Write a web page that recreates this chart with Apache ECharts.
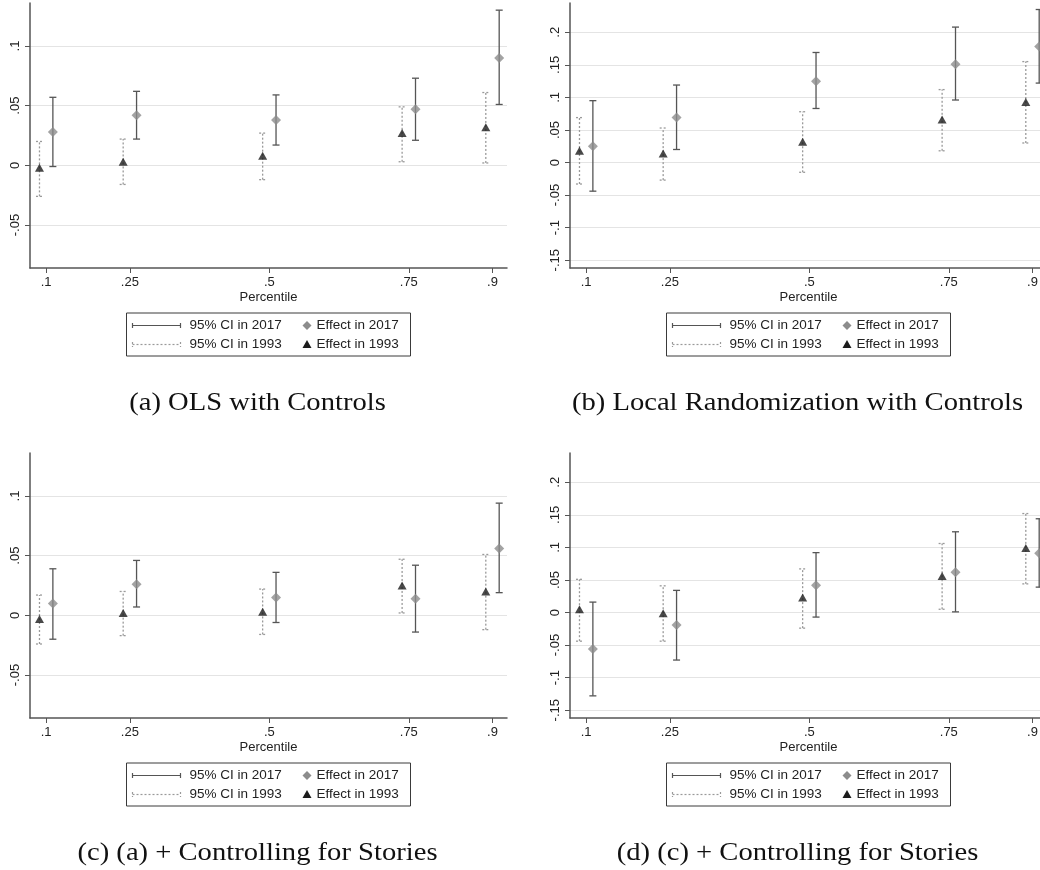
<!DOCTYPE html>
<html>
<head>
<meta charset="utf-8">
<title>Effects by percentile, 2017 vs 1993</title>
<script src="https://cdn.jsdelivr.net/npm/echarts@6/dist/echarts.min.js"></script>
<style>
  html, body { margin: 0; padding: 0; background: #fff; }
  #chart { width: 1040px; height: 870px; }
</style>
</head>
<body>
<div id="chart"></div>
<script>
// x axis: percentiles
var percentiles = [0.1, 0.25, 0.5, 0.75, 0.9];
var xTickLabels = ['.1', '.25', '.5', '.75', '.9'];

// y ticks, left column (a, c) and right column (b, d)
var yTicksNarrow = [-0.05, 0, 0.05, 0.1];
var yTickLabelsNarrow = ['-.05', '0', '.05', '.1'];
var yTicksWide = [-0.15, -0.1, -0.05, 0, 0.05, 0.1, 0.15, 0.2];
var yTickLabelsWide = ['-.15', '-.1', '-.05', '0', '.05', '.1', '.15', '.2'];

// (a) OLS with Controls
var olsEffect2017 = [0.028, 0.042, 0.038, 0.047, 0.090];
var olsLow2017    = [-0.001, 0.022, 0.017, 0.021, 0.051];
var olsHigh2017   = [0.057, 0.062, 0.059, 0.073, 0.130];
var olsEffect1993 = [-0.002, 0.003, 0.008, 0.027, 0.032];
var olsLow1993    = [-0.026, -0.016, -0.012, 0.003, 0.002];
var olsHigh1993   = [0.020, 0.022, 0.027, 0.049, 0.061];

// (b) Local Randomization with Controls
var lrEffect2017 = [0.025, 0.069, 0.125, 0.151, 0.178];
var lrLow2017    = [-0.044, 0.020, 0.083, 0.096, 0.122];
var lrHigh2017   = [0.095, 0.119, 0.169, 0.208, 0.235];
var lrEffect1993 = [0.018, 0.014, 0.032, 0.066, 0.093];
var lrLow1993    = [-0.033, -0.027, -0.015, 0.018, 0.030];
var lrHigh1993   = [0.069, 0.053, 0.078, 0.112, 0.155];

// (c) (a) + Controlling for Stories
var olsStEffect2017 = [0.010, 0.026, 0.015, 0.014, 0.056];
var olsStLow2017    = [-0.020, 0.007, -0.006, -0.014, 0.019];
var olsStHigh2017   = [0.039, 0.046, 0.036, 0.042, 0.094];
var olsStEffect1993 = [-0.003, 0.002, 0.003, 0.025, 0.020];
var olsStLow1993    = [-0.024, -0.017, -0.016, 0.002, -0.012];
var olsStHigh1993   = [0.017, 0.020, 0.022, 0.047, 0.051];

// (d) (c) + Controlling for Stories
var lrStEffect2017 = [-0.056, -0.019, 0.042, 0.062, 0.091];
var lrStLow2017    = [-0.128, -0.073, -0.007, 0.001, 0.039];
var lrStHigh2017   = [0.016, 0.034, 0.092, 0.124, 0.144];
var lrStEffect1993 = [0.005, -0.001, 0.023, 0.056, 0.099];
var lrStLow1993    = [-0.044, -0.044, -0.024, 0.005, 0.044];
var lrStHigh1993   = [0.051, 0.041, 0.067, 0.106, 0.152];

var SANS = '"Liberation Sans", Arial, sans-serif';
var SERIF = '"Liberation Serif", "Times New Roman", serif';
var DODGE = 0.012; // 1993 drawn left of the tick, 2017 right of it
var COL_2017 = '#555555';
var COL_1993 = '#9a9a9a';

var panels = [
  { caption: '(a) OLS with Controls', left: 30, top: 3, wide: false,
    e17: olsEffect2017, lo17: olsLow2017, hi17: olsHigh2017, e93: olsEffect1993, lo93: olsLow1993, hi93: olsHigh1993 },
  { caption: '(b) Local Randomization with Controls', left: 570, top: 3, wide: true,
    e17: lrEffect2017, lo17: lrLow2017, hi17: lrHigh2017, e93: lrEffect1993, lo93: lrLow1993, hi93: lrHigh1993 },
  { caption: '(c) (a) + Controlling for Stories', left: 30, top: 453, wide: false,
    e17: olsStEffect2017, lo17: olsStLow2017, hi17: olsStHigh2017, e93: olsStEffect1993, lo93: olsStLow1993, hi93: olsStHigh1993 },
  { caption: '(d) (c) + Controlling for Stories', left: 570, top: 453, wide: true,
    e17: lrStEffect2017, lo17: lrStLow2017, hi17: lrStHigh2017, e93: lrStEffect1993, lo93: lrStLow1993, hi93: lrStHigh1993 }
];
var PLOT_W = 477, PLOT_H = 265;

function labelFrom(ticks, labels) {
  return function (v) {
    for (var i = 0; i < ticks.length; i++) {
      if (Math.abs(ticks[i] - v) < 1e-9) return labels[i];
    }
    return '';
  };
}

// vertical CI bar with caps
function ciBar(dodge, color, dash) {
  return function (params, api) {
    var x = api.value(0) + dodge;
    var lo = api.coord([x, api.value(1)]);
    var hi = api.coord([x, api.value(2)]);
    var cap = 3.5;
    var st = { stroke: color, lineWidth: 1.3, lineDash: dash, fill: null };
    return {
      type: 'group',
      children: [
        { type: 'line', shape: { x1: lo[0], y1: lo[1], x2: hi[0], y2: hi[1] }, style: st },
        { type: 'line', shape: { x1: lo[0] - cap, y1: lo[1], x2: lo[0] + cap, y2: lo[1] }, style: st },
        { type: 'line', shape: { x1: hi[0] - cap, y1: hi[1], x2: hi[0] + cap, y2: hi[1] }, style: st }
      ]
    };
  };
}

function legendBox(cx, top) {
  var w = 284, h = 43, r1 = 12.5, r2 = 31.5;
  var font = { fontFamily: SANS, fontSize: 13.5, fill: '#222', verticalAlign: 'middle', align: 'left' };
  function txt(s, x, y) {
    return { type: 'text', style: Object.assign({ text: s, x: x, y: y }, font) };
  }
  function sample(y, color, dash) {
    var st = { stroke: color, lineWidth: 1.2, lineDash: dash };
    return [
      { type: 'line', shape: { x1: 6, y1: y, x2: 54, y2: y }, style: st },
      { type: 'line', shape: { x1: 6, y1: y - 2.5, x2: 6, y2: y + 2.5 }, style: st },
      { type: 'line', shape: { x1: 54, y1: y - 2.5, x2: 54, y2: y + 2.5 }, style: st }
    ];
  }
  var d = 180.5;
  var children = [
    { type: 'rect', shape: { x: 0, y: 0, width: w, height: h }, style: { fill: '#fff', stroke: '#3a3a3a', lineWidth: 1 } }
  ]
    .concat(sample(r1, COL_2017, null))
    .concat(sample(r2, COL_1993, [2, 2]))
    .concat([
      txt('95% CI in 2017', 63, r1),
      txt('95% CI in 1993', 63, r2),
      { type: 'polygon', shape: { points: [[d, r1 - 4.5], [d + 4.5, r1], [d, r1 + 4.5], [d - 4.5, r1]] }, style: { fill: '#8c8c8c' } },
      { type: 'polygon', shape: { points: [[d, r2 - 4.5], [d + 4.5, r2 + 3.5], [d - 4.5, r2 + 3.5]] }, style: { fill: '#1c1c1c' } },
      txt('Effect in 2017', 190, r1),
      txt('Effect in 1993', 190, r2)
    ]);
  return { type: 'group', x: cx - w / 2, y: top, children: children };
}

var grids = [], xAxes = [], yAxes = [], series = [], graphics = [];

panels.forEach(function (p, i) {
  var yTicks = p.wide ? yTicksWide : yTicksNarrow;
  var yLabels = p.wide ? yTickLabelsWide : yTickLabelsNarrow;
  grids.push({ left: p.left, top: p.top, width: PLOT_W, height: PLOT_H, containLabel: false, outerBoundsMode: 'none' });
  xAxes.push({
    type: 'value', gridIndex: i, min: 0.071, max: 0.926,
    name: 'Percentile', nameLocation: 'middle', nameGap: 23,
    nameTextStyle: { fontFamily: SANS, fontSize: 13, color: '#222' },
    axisLine: { onZero: false, lineStyle: { color: '#555', width: 1.5 } },
    axisTick: { length: 5, customValues: percentiles, lineStyle: { color: '#555', width: 1 } },
    axisLabel: { customValues: percentiles, margin: 8, fontFamily: SANS, fontSize: 13, color: '#222',
                 formatter: labelFrom(percentiles, xTickLabels) },
    splitLine: { show: false }
  });
  yAxes.push({
    type: 'value', gridIndex: i,
    min: p.wide ? -0.162 : -0.086, max: p.wide ? 0.245 : 0.136,
    axisLine: { show: true, onZero: false, lineStyle: { color: '#555', width: 1.5 } },
    axisTick: { show: true, length: 5, customValues: yTicks, lineStyle: { color: '#555', width: 1 } },
    axisLabel: { customValues: yTicks, rotate: 90, margin: 8, fontFamily: SANS, fontSize: 13, color: '#222',
                 formatter: labelFrom(yTicks, yLabels) },
    splitLine: { show: true, lineStyle: { color: '#e4e4e4', width: 1.2 } }
  });

  var ci93 = percentiles.map(function (x, k) { return [x, p.lo93[k], p.hi93[k]]; });
  var ci17 = percentiles.map(function (x, k) { return [x, p.lo17[k], p.hi17[k]]; });
  series.push({
    type: 'custom', name: '95% CI in 1993', xAxisIndex: i, yAxisIndex: i, z: 2,
    data: ci93, encode: { x: 0, y: [1, 2] }, renderItem: ciBar(-DODGE, COL_1993, [2, 2])
  });
  series.push({
    type: 'custom', name: '95% CI in 2017', xAxisIndex: i, yAxisIndex: i, z: 2,
    data: ci17, encode: { x: 0, y: [1, 2] }, renderItem: ciBar(DODGE, COL_2017, null)
  });
  series.push({
    type: 'scatter', name: 'Effect in 1993', xAxisIndex: i, yAxisIndex: i, z: 3,
    symbol: 'triangle', symbolSize: [9, 8], itemStyle: { color: '#1c1c1c' },
    data: percentiles.map(function (x, k) { return [x - DODGE, p.e93[k]]; })
  });
  series.push({
    type: 'scatter', name: 'Effect in 2017', xAxisIndex: i, yAxisIndex: i, z: 3,
    symbol: 'diamond', symbolSize: 10, itemStyle: { color: '#8c8c8c' },
    data: percentiles.map(function (x, k) { return [x + DODGE, p.e17[k]]; })
  });

  var plotCenter = p.left + PLOT_W / 2;
  var plotBottom = p.top + PLOT_H;
  graphics.push(legendBox(plotCenter, plotBottom + 45));
  graphics.push({
    type: 'text', x: plotCenter - 11, y: plotBottom + 135, scaleX: 1.1,
    style: { text: p.caption, fontFamily: SERIF, fontSize: 26, fill: '#111', align: 'center', verticalAlign: 'middle' }
  });
});

var chart = echarts.init(document.getElementById('chart'), null, { renderer: 'canvas' });
chart.setOption({
  animation: false,
  backgroundColor: '#fff',
  grid: grids,
  xAxis: xAxes,
  yAxis: yAxes,
  series: series,
  graphic: graphics
});
</script>
</body>
</html>
